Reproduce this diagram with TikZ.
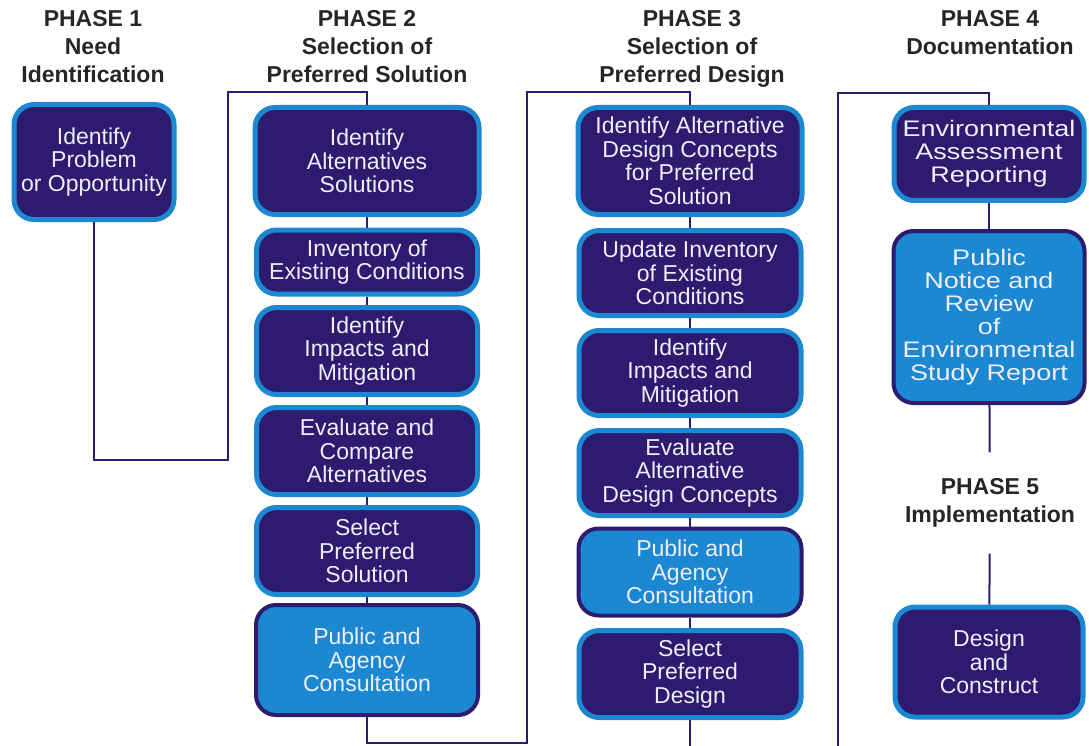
\documentclass[tikz,border=0pt]{standalone}
\usepackage{fontspec}
\setmainfont{Liberation Sans}
\newfontfamily\widesans{Liberation Sans}[FakeStretch=1.2]
\definecolor{StudyNavy}{RGB}{44, 27, 110}
\definecolor{StudyBlue}{RGB}{28, 136, 210}
\definecolor{StudyText}{RGB}{240, 238, 252}
\usetikzlibrary{positioning, backgrounds}

\tikzset{
  stepdark/.style={rectangle, rounded corners=20pt, fill=StudyNavy, draw=StudyBlue, line width=5pt,
    text=StudyText, align=center, inner sep=0pt, font=\fontsize{23}{23.5}\selectfont},
  steplight/.style={stepdark, fill=StudyBlue, draw=StudyNavy, line width=4pt},
  stepwide/.style={font=\widesans\fontsize{22.5}{23}\selectfont},
  phasehead/.style={align=center, inner sep=0pt, text=black!85, font=\fontsize{23}{28}\selectfont\bfseries},
  link/.style={draw=StudyNavy, line width=2pt}
}

\begin{document}
\begin{tikzpicture}[x=1pt, y=-1pt]
  \useasboundingbox (0,0) rectangle (1089,746);

  % phase headings
  \node[phasehead, anchor=north] (h1) at (93,10) {PHASE 1\\Need\\Identification};
  \node[phasehead, anchor=north] (h2) at (367,10) {PHASE 2\\Selection of\\Preferred Solution};
  \node[phasehead, anchor=north] (h3) at (692,10) {PHASE 3\\Selection of\\Preferred Design};
  \node[phasehead, anchor=north] (h4) at (990,10) {PHASE 4\\Documentation};

  % phase 1
  \node[stepdark, minimum width=160pt, minimum height=115pt] (a1) at (94,162) {Identify\\Problem\\or Opportunity};

  % phase 2
  \node[stepdark, minimum width=224pt, minimum height=107pt] (b1) at (367,161) {Identify\\Alternatives\\Solutions};
  \node[stepdark, minimum width=221pt, minimum height=64pt] (b2) at (367,262) {Inventory of\\Existing Conditions};
  \node[stepdark, minimum width=221pt, minimum height=87pt] (b3) at (367,351) {Identify\\Impacts and\\Mitigation};
  \node[stepdark, minimum width=221pt, minimum height=87pt] (b4) at (367,451) {Evaluate and\\Compare\\Alternatives};
  \node[stepdark, minimum width=221pt, minimum height=87pt] (b5) at (367,551) {Select\\Preferred\\Solution};
  \node[steplight, minimum width=222pt, minimum height=110pt] (b6) at (367,660) {Public and\\Agency\\Consultation};

  % phase 3
  \node[stepdark, minimum width=224pt, minimum height=107pt] (c1) at (690,161) {Identify Alternative\\Design Concepts\\for Preferred\\Solution};
  \node[stepdark, minimum width=222pt, minimum height=85pt] (c2) at (690,273) {Update Inventory\\of Existing\\Conditions};
  \node[stepdark, minimum width=222pt, minimum height=85pt] (c3) at (690,373) {Identify\\Impacts and\\Mitigation};
  \node[stepdark, minimum width=222pt, minimum height=85pt] (c4) at (690,473) {Evaluate\\Alternative\\Design Concepts};
  \node[steplight, minimum width=223pt, minimum height=87pt] (c5) at (690,572) {Public and\\Agency\\Consultation};
  \node[stepdark, minimum width=222pt, minimum height=87pt] (c6) at (690,674) {Select\\Preferred\\Design};

  % phase 4 and 5
  \node[stepdark, stepwide, minimum width=190pt, minimum height=93pt] (d1) at (989,154) {Environmental\\Assessment\\Reporting};
  \node[steplight, stepwide, minimum width=191pt, minimum height=172pt] (d2) at (989,317) {Public\\Notice and\\Review\\of\\Environmental\\Study Report};
  \node[phasehead, inner ysep=26pt] (h5) at (990,503) {PHASE 5\\Implementation};
  \node[stepdark, minimum width=188pt, minimum height=110pt] (d3) at (989,662) {Design\\and\\Construct};

  % turning points of the long connectors
  \coordinate (bot) at (0,746);
  \coordinate (k1) at (228,460);
  \coordinate (k2) at (228,92);
  \coordinate (k3) at (527,743);
  \coordinate (k4) at (527,92);
  \coordinate (k5) at (838,746);
  \coordinate (k6) at (838,93);

  \begin{scope}[on background layer]
    \draw[link] (a1.south) |- (k1) -- (k2) -| (b1.north);
    \draw[link] (b1) -- (b2) (b2) -- (b3) (b3) -- (b4) (b4) -- (b5) (b5) -- (b6);
    \draw[link] (b6.south) |- (k3) -- (k4) -| (c1.north);
    \draw[link] (c1) -- (c2) (c2) -- (c3) (c3) -- (c4) (c4) -- (c5) (c5) -- (c6);
    \draw[link] (c6.south) -- (c6.south |- bot);
    \draw[link] (k5) -- (k6) -| (d1.north);
    \draw[link] (d1) -- (d2);
    \draw[link] (d2) -- (h5) -- (d3);
  \end{scope}
\end{tikzpicture}
\end{document}
